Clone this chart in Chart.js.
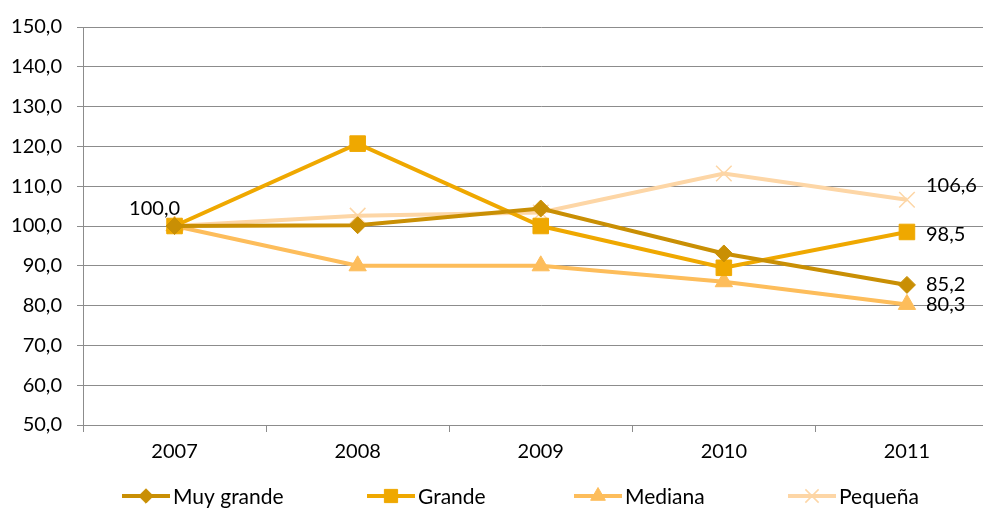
<!DOCTYPE html>
<html lang="es">
<head>
<meta charset="UTF-8">
<title>Índice por tamaño</title>
<script src="https://cdn.jsdelivr.net/npm/chart.js"></script>
<style>
  html, body { margin: 0; padding: 0; background: #fff; overflow: hidden; }
  #wrap { width: 1011px; height: 508px; }
</style>
</head>
<body>
<div id="wrap"><canvas id="chart" width="1011" height="508"></canvas></div>
<script>
    const years = ['2007', '2008', '2009', '2010', '2011'];
    const muyGrande = [100.0, 100.2, 104.4, 93.1, 85.2];
    const grande = [100.0, 120.7, 100.0, 89.5, 98.5];
    const mediana = [100.0, 90.0, 90.0, 86.0, 80.3];
    const pequena = [100.0, 102.6, 103.4, 113.2, 106.6];
    const seriesNames = ['Muy grande', 'Grande', 'Mediana', 'Pequeña'];

    const FONT = 'Lato, "Open Sans", sans-serif';
    const fmt = v => v.toFixed(1).replace('.', ',');

    function ds(label, data, color, style, radius, extra) {
        return Object.assign({
            label: label,
            data: data,
            borderColor: color,
            backgroundColor: color,
            pointBackgroundColor: color,
            pointBorderColor: color,
            pointStyle: style,
            pointRadius: radius,
            pointBorderWidth: 1,
            borderWidth: 4,
            tension: 0
        }, extra || {});
    }

    // value labels: which points get a label and where it sits relative to the point
    const labelPlugin = {
        id: 'valueLabels',
        afterDatasetsDraw(chart) {
            const ctx = chart.ctx;
            ctx.save();
            ctx.font = '20px ' + FONT;
            ctx.fillStyle = '#000';
            ctx.textBaseline = 'middle';
            chart.data.datasets.forEach((d, i) => {
                const meta = chart.getDatasetMeta(i);
                (d.valueLabels || []).forEach(l => {
                    const p = meta.data[l.index];
                    ctx.textAlign = l.align;
                    ctx.fillText(fmt(d.data[l.index]), p.x + l.dx, p.y + l.dy);
                });
            });
            ctx.restore();
        }
    };

    // legend drawn as line + marker like the original
    const legendPlugin = {
        id: 'lineLegend',
        afterDraw(chart) {
            const ctx = chart.ctx;
            const xs = [122, 367, 574, 788];
            const y = 496;
            ctx.save();
            chart.data.datasets.forEach((d, i) => {
                const x = xs[i];
                ctx.strokeStyle = d.borderColor;
                ctx.lineWidth = 4;
                ctx.beginPath();
                ctx.moveTo(x, y);
                ctx.lineTo(x + 48, y);
                ctx.stroke();
                ctx.fillStyle = d.pointBackgroundColor;
                ctx.strokeStyle = d.pointBorderColor;
                ctx.lineWidth = d.pointBorderWidth;
                Chart.helpers.drawPoint(ctx, {
                    pointStyle: d.pointStyle,
                    radius: d.pointRadius * 0.85,
                    borderWidth: d.pointBorderWidth,
                    rotation: 0
                }, x + 24, y);
                ctx.fillStyle = '#000';
                ctx.font = '21px ' + FONT;
                ctx.textAlign = 'left';
                ctx.textBaseline = 'middle';
                ctx.fillText(d.label, x + 51, y + 1);
            });
            ctx.restore();
        }
    };

    document.addEventListener('DOMContentLoaded', function () {
        const ctx = document.getElementById('chart').getContext('2d');
        new Chart(ctx, {
            type: 'line',
            data: {
                labels: years,
                datasets: [
                    ds(seriesNames[0], muyGrande, '#C98F04', 'rectRot', 8.5, {
                        valueLabels: [{ index: 0, dx: -20, dy: -17, align: 'center' }, { index: 4, dx: 19, dy: 0, align: 'left' }]
                    }),
                    ds(seriesNames[1], grande, '#EFA800', 'rect', 11, {
                        valueLabels: [{ index: 4, dx: 19, dy: 3, align: 'left' }]
                    }),
                    ds(seriesNames[2], mediana, '#FDBD5B', 'triangle', 10, {
                        valueLabels: [{ index: 4, dx: 19, dy: 0, align: 'left' }]
                    }),
                    ds(seriesNames[3], pequena, '#FDD6A6', 'crossRot', 11, {
                        pointBorderWidth: 1.5,
                        valueLabels: [{ index: 4, dx: 19, dy: -14, align: 'left' }]
                    })
                ]
            },
            options: {
                responsive: false,
                animation: false,
                layout: { padding: { top: 26, right: 2, bottom: 0, left: 0 } },
                plugins: {
                    legend: { display: false },
                    tooltip: { enabled: false }
                },
                scales: {
                    x: {
                        offset: true,
                        grid: { offset: true, drawOnChartArea: false, drawTicks: true, tickLength: 7, color: '#8C8C8C' },
                        border: { color: '#8C8C8C' },
                        ticks: { color: '#000', font: { family: FONT, size: 20 }, padding: 8, maxRotation: 0 },
                        afterFit: s => { s.height = 83; }
                    },
                    y: {
                        min: 50,
                        max: 150,
                        grid: { color: '#8C8C8C', tickLength: 6 },
                        border: { color: '#8C8C8C' },
                        ticks: {
                            stepSize: 10,
                            color: '#000',
                            font: { family: FONT, size: 20 },
                            padding: 15,
                            callback: v => fmt(v)
                        },
                        afterFit: s => { s.width = 83; }
                    }
                }
            },
            plugins: [labelPlugin, legendPlugin]
        });
    });
</script>
</body>
</html>
